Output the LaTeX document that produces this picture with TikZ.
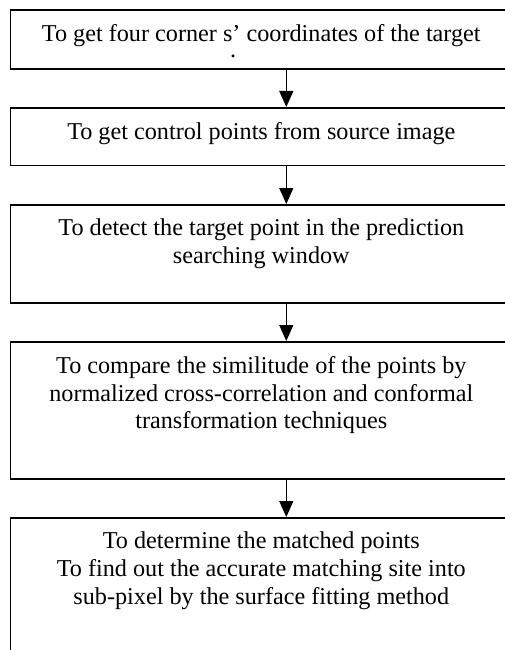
\documentclass[tikz,border=0pt]{standalone}
\usepackage{fontspec}
\setmainfont{Liberation Serif}
\usetikzlibrary{positioning,arrows.meta}

\tikzset{
  stepbox/.style={draw,line width=1.6pt,rectangle,inner sep=0pt,minimum width=502pt,anchor=north west},
  steptext/.style={align=center,inner sep=0pt,font=\fontsize{24.2}{27.8}\selectfont},
  flow/.style={-{Triangle[length=16pt,width=14pt]},line width=1.2pt}
}

\begin{document}
\begin{tikzpicture}[x=1pt,y=-1pt]
  \useasboundingbox (0,0) rectangle (505,650);
  \clip (0,0) rectangle (505,650);

  % boxes
  \node[stepbox,minimum height=58.5pt] (b1) at (9.5,9.5) {};
  \node[stepbox,minimum height=57.5pt] (b2) at (9.5,107) {};
  \node[stepbox,minimum height=98pt]   (b3) at (9.5,204) {};
  \node[stepbox,minimum height=137pt]  (b4) at (9.5,341) {};
  \node[stepbox,minimum height=160pt]  (b5) at (9.5,517) {};

  % texts
  \node[steptext,below=15pt of b1.north] (t1) {To get four corner s’ coordinates of the target};
  \node[inner sep=0pt,anchor=base,text height=3pt,text depth=0pt,font=\fontsize{24}{24}\selectfont] (dot) at (233,58) {.};
  \node[steptext,below=15pt of b2.north] (t2) {To get control points from source image};
  \node[steptext,below=15pt of b3.north] (t3) {To detect the target point in the prediction\\ searching window};
  \node[steptext,below=15pt of b4.north] (t4) {To compare the similitude of the points by\\ normalized cross-correlation and conformal\\ transformation techniques};
  \node[steptext,below=15pt of b5.north] (t5) {To determine the matched points\\ To find out the accurate matching site into\\ sub-pixel by the surface fitting method};

  % arrows
  \draw[flow] ([xshift=25pt]b1.south) -- ([xshift=25pt]b2.north);
  \draw[flow] ([xshift=25pt]b2.south) -- ([xshift=25pt]b3.north);
  \draw[flow] ([xshift=25pt]b3.south) -- ([xshift=25pt]b4.north);
  \draw[flow] ([xshift=25pt]b4.south) -- ([xshift=25pt]b5.north);
\end{tikzpicture}
\end{document}
